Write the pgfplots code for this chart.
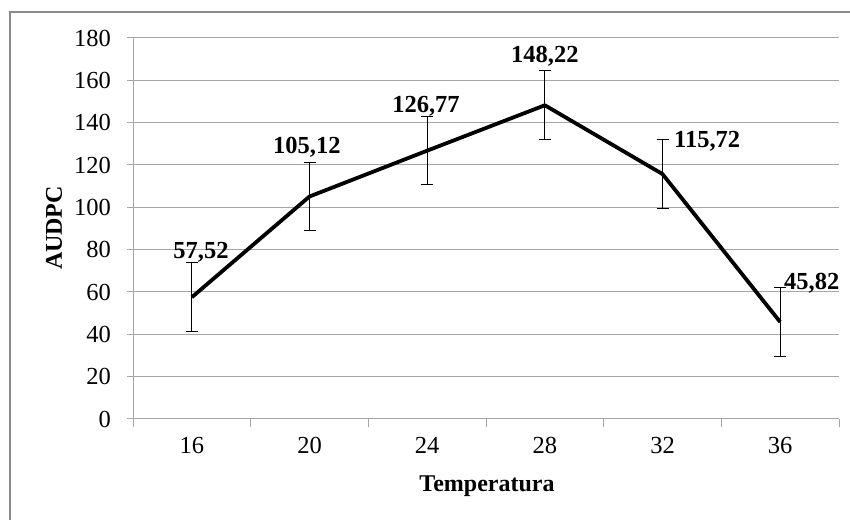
\documentclass[border=0pt]{standalone}
\usepackage{fontspec}
\setmainfont{Liberation Serif}
\usepackage{pgfplots}
\pgfplotsset{compat=1.18}

\definecolor{gridgray}{HTML}{A6A6A6}
\definecolor{framegray}{HTML}{8C8C8C}

\pgfplotstableread{
x   y      err
16  57.52  16.2
20  105.12 16.2
24  126.77 16.2
28  148.22 16.2
32  115.72 16.2
36  45.82  16.2
}\audpc

\begin{document}
\begin{tikzpicture}[x=1pt,y=1pt]
\useasboundingbox (0,0) rectangle (850,519);
% outer chart frame (only left and top edges inside the picture)
\draw[framegray, line width=2pt] (10,-5) -- (10,507) -- (860,507);

\begin{axis}[
    at={(133pt,100pt)}, anchor=south west,
    scale only axis,
    width=706pt, height=381pt,
    xmin=14, xmax=38,
    ymin=0, ymax=180,
    xtick={16,20,24,28,32,36},
    minor xtick={14,18,22,26,30,34,38},
    ytick={0,20,...,180},
    axis lines*=left,
    axis line style={gridgray, line width=1pt},
    major x tick style={draw=none},
    minor x tick style={gridgray, line width=1pt},
    y tick style={gridgray, line width=1pt},
    tick align=outside,
    major tick length=6pt,
    minor tick length=8pt,
    ymajorgrids,
    grid style={gridgray, line width=1pt},
    /pgf/number format/assume math mode=true,
    tick label style={font=\fontsize{24.5}{28}\selectfont, black},
    yticklabel style={inner sep=0pt, anchor=east, xshift=-16pt},
    xticklabel style={inner sep=0pt, anchor=north, yshift=-12pt},
    clip=false,
]
\addplot[black, line width=3.8pt, line join=round,
    error bars/.cd, y dir=both, y explicit,
    error bar style={black, line width=1pt},
    error mark options={black, line width=1pt, mark size=6pt, rotate=90}]
    table[x=x, y=y, y error=err] {\audpc};

\begin{scope}[every node/.style={font=\fontsize{24.5}{28}\selectfont\bfseries, inner sep=0pt}]
\node[anchor=base] at (axis cs:16.31,76.0) {57,52};
\node[anchor=base] at (axis cs:19.91,125.6) {105,12};
\node[anchor=base] at (axis cs:23.96,145.0) {126,77};
\node[anchor=base] at (axis cs:28.0,168.2) {148,22};
\node[anchor=base west] at (axis cs:32.39,128.5) {115,72};
\node[anchor=base west] at (axis cs:36.13,61.4) {45,82};
\end{scope}
\end{axis}

\node[rotate=90, font=\fontsize{24}{28}\selectfont\bfseries, inner sep=0pt] at (54,291) {AUDPC};
\node[anchor=base, font=\fontsize{24}{28}\selectfont\bfseries, inner sep=0pt] at (487,28) {Temperatura};
\end{tikzpicture}
\end{document}
